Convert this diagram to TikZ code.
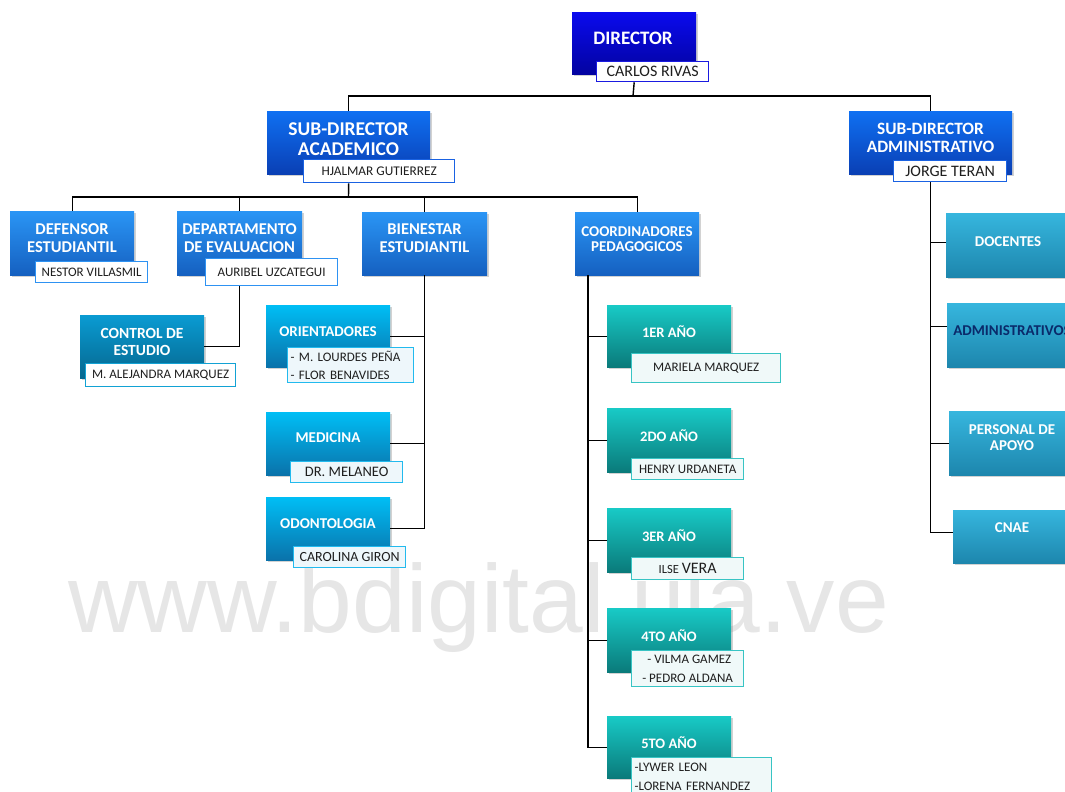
\documentclass[tikz,border=0pt]{standalone}
\usepackage{fontspec}
\setmainfont{Carlito}
\newfontfamily\wmfont{Liberation Sans}
\usetikzlibrary{shadows}
\definecolor{dirT}{HTML}{0A0AEE}
\definecolor{dirB}{HTML}{0303A0}
\definecolor{subT}{HTML}{0F70F2}
\definecolor{subB}{HTML}{0A3FB4}
\definecolor{midT}{HTML}{2A95F5}
\definecolor{midB}{HTML}{1560C0}
\definecolor{ctlT}{HTML}{0A9BD2}
\definecolor{ctlB}{HTML}{05678F}
\definecolor{oriT}{HTML}{00BEF5}
\definecolor{oriB}{HTML}{0A72AA}
\definecolor{yrT}{HTML}{18CAC6}
\definecolor{yrB}{HTML}{0A7A7A}
\definecolor{admT}{HTML}{36B6DE}
\definecolor{admB}{HTML}{1D86AD}
\definecolor{navy}{HTML}{0A2A6A}
\definecolor{wm}{HTML}{E6E6E6}
\definecolor{lnDir}{HTML}{1A1AE0}
\definecolor{lnSub}{HTML}{1A62E2}
\definecolor{lnMid}{HTML}{2E92F2}
\definecolor{lnCtl}{HTML}{12A2D4}
\definecolor{lnOri}{HTML}{22BAEE}
\definecolor{lnYr}{HTML}{38C4C4}
\definecolor{fOri}{HTML}{EEF7FB}
\definecolor{fYr}{HTML}{F0F9F9}
\definecolor{ntext}{HTML}{1E1E1E}
\tikzset{
  box/.style={anchor=north west, inner sep=0pt, shading=axis,
    drop shadow={opacity=0.35, shadow xshift=2pt, shadow yshift=-2pt}},
  dirbox/.style={box, top color=dirT, bottom color=dirB},
  subbox/.style={box, top color=subT, bottom color=subB},
  midbox/.style={box, top color=midT, bottom color=midB},
  ctlbox/.style={box, top color=ctlT, bottom color=ctlB},
  oribox/.style={box, top color=oriT, bottom color=oriB},
  yrbox/.style={box, top color=yrT, bottom color=yrB},
  admbox/.style={box, top color=admT, bottom color=admB},
  ttl/.style={text=white, align=center, inner sep=0pt,
    font=\bfseries\fontsize{16.5}{18}\selectfont},
  namebox/.style={anchor=north west, draw, fill=white, line width=1.3pt,
    inner sep=0pt, text=ntext, font=\fontsize{13}{15.5}\selectfont},
  conn/.style={draw=black, line width=1.4pt}
}
% box: [style]{name}{x1}{y1}{x2}{y2}
\newcommand\bx[6][]{\node[#1, minimum width={(#5-#3)*1pt}, minimum height={(#6-#4)*1pt}] (#2) at (#3,#4) {};}
% name box: [style]{name}{x1}{y1}{x2}{y2}{text}
\newcommand\nb[7][]{\node[namebox, #1, minimum width={(#5-#3)*1pt}, minimum height={(#6-#4)*1pt}] (#2) at (#3,#4) {#7};}
\begin{document}
\begin{tikzpicture}[x=1pt,y=-1pt]
\clip (0,0) rectangle (1065,792);
\fill[white] (0,0) rectangle (1065,792);
% watermark
\node[anchor=base west, inner sep=0pt, text=wm, font=\wmfont\fontsize{96.5}{100}\selectfont] (wmk) at (68,632) {www.bdigital.ula.ve};

% ---------- helper coordinates ----------
\coordinate (b1) at (633,96);
\coordinate (b2) at (348.5,197);
\coordinate (ct) at (588,275);

% ---------- boxes ----------
\bx[dirbox]{dir}{572}{12}{696}{74}
\node[ttl, font=\bfseries\fontsize{19}{21}\selectfont] (dirt) at (633,38) {DIRECTOR};
\nb[draw=lnDir, font=\fontsize{16}{18}\selectfont]{dirn}{596}{61}{708}{81}{CARLOS RIVAS}

\bx[subbox]{sda}{267}{111}{430}{174}
\node[ttl, font=\bfseries\fontsize{19.5}{20}\selectfont] (sdat) at (348.5,139) {SUB-DIRECTOR\\ACADEMICO};
\nb[draw=lnSub, font=\fontsize{13.3}{15}\selectfont]{hj}{303}{159}{454}{182}{HJALMAR GUTIERREZ}

\bx[subbox]{sdm}{849}{111}{1012}{174}
\node[ttl, font=\bfseries\fontsize{17.3}{18}\selectfont] (sdmt) at (930.5,138) {SUB-DIRECTOR\\ADMINISTRATIVO};
\nb[draw=lnSub, font=\fontsize{16}{18}\selectfont]{jt}{893}{160}{1006}{181}{JORGE TERAN}

\bx[midbox]{def}{10}{211}{134}{275}
\node[ttl] (deft) at (72,238) {DEFENSOR\\ESTUDIANTIL};
\nb[draw=lnMid]{nv}{35}{261}{147}{282}{NESTOR VILLASMIL}

\bx[midbox]{dep}{177}{211}{302}{275}
\node[ttl] (dept) at (239.5,238) {DEPARTAMENTO\\DE EVALUACION};
\nb[draw=lnMid]{au}{205}{258}{337}{285}{AURIBEL UZCATEGUI}

\bx[ctlbox]{ctl}{80}{315}{204}{378}
\node[ttl, font=\bfseries\fontsize{15.5}{16.5}\selectfont] (ctlt) at (142,342) {CONTROL DE\\ESTUDIO};
\nb[draw=lnCtl]{ale}{85}{363}{235}{386}{M. ALEJANDRA MARQUEZ}

\bx[midbox]{bien}{362}{212}{487}{275}
\node[ttl] (bient) at (424.5,238) {BIENESTAR\\ESTUDIANTIL};

\bx[midbox]{coord}{575}{212}{699}{275}
\node[ttl, font=\bfseries\fontsize{15}{15.5}\selectfont] (coordt) at (637,239) {COORDINADORES\\PEDAGOGICOS};

\bx[oribox]{ori}{266}{305}{390}{367}
\node[ttl, font=\bfseries\fontsize{15}{17}\selectfont] (orit) at (328,332) {ORIENTADORES};
\nb[draw=lnOri, fill=fOri, align=left, text width=120pt, inner xsep=3pt, font=\fontsize{13}{18.5}\selectfont]{orin}{287}{347}{413}{382}{- M. LOURDES PEÑA\\- FLOR BENAVIDES}

\bx[oribox]{med}{266}{412}{390}{475}
\node[ttl, font=\bfseries\fontsize{15}{17}\selectfont] (medt) at (328,438) {MEDICINA};
\nb[draw=lnOri, fill=fOri, font=\fontsize{14.5}{16}\selectfont]{mel}{290}{461}{402}{482}{DR. MELANEO}

\bx[oribox]{odo}{266}{497}{390}{560}
\node[ttl, font=\bfseries\fontsize{15}{17}\selectfont] (odot) at (328,524) {ODONTOLOGIA};
\nb[draw=lnOri, fill=fOri, font=\fontsize{14}{16}\selectfont]{car}{293}{546}{405}{567}{CAROLINA GIRON}

\bx[yrbox]{y1}{607}{305}{731}{367}
\node[ttl, font=\bfseries\fontsize{14.5}{16}\selectfont] (y1t) at (669,332) {1ER AÑO};
\nb[draw=lnYr, fill=fYr]{y1n}{631}{353}{780}{382}{MARIELA MARQUEZ}

\bx[yrbox]{y2}{607}{408}{731}{472}
\node[ttl, font=\bfseries\fontsize{14.5}{16}\selectfont] (y2t) at (669,436) {2DO AÑO};
\nb[draw=lnYr, fill=fYr]{y2n}{631}{458}{743}{479}{HENRY URDANETA}

\bx[yrbox]{y3}{607}{508}{731}{572}
\node[ttl, font=\bfseries\fontsize{14.5}{16}\selectfont] (y3t) at (669,536) {3ER AÑO};
\nb[draw=lnYr, fill=fYr]{y3n}{631}{557}{743}{579}{{\fontsize{12.5}{14}\selectfont ILSE} {\fontsize{16}{18}\selectfont VERA}}

\bx[yrbox]{y4}{607}{608}{731}{672}
\node[ttl, font=\bfseries\fontsize{14.5}{16}\selectfont] (y4t) at (669,636) {4TO AÑO};
\nb[draw=lnYr, fill=fYr, align=left, font=\fontsize{13}{19}\selectfont]{y4n}{631}{650}{743}{686}{\ \,- VILMA GAMEZ\\- PEDRO ALDANA}

\bx[yrbox]{y5}{607}{716}{731}{778}
\node[ttl, font=\bfseries\fontsize{14.5}{16}\selectfont] (y5t) at (669,743) {5TO AÑO};
\nb[draw=lnYr, fill=fYr, align=left, text width=134pt, inner xsep=2pt, font=\fontsize{13}{19}\selectfont]{y5n}{631}{757}{771}{795}{-LYWER LEON\\-LORENA FERNANDEZ}

\bx[admbox]{doc}{946}{213}{1070}{277}
\node[ttl, font=\bfseries\fontsize{15}{17}\selectfont] (doct) at (1008,242) {DOCENTES};

\bx[admbox]{adm}{947}{303}{1071}{367}
\node[ttl, text=navy, font=\bfseries\fontsize{15}{17}\selectfont] (admt) at (1012,331) {ADMINISTRATIVOS};

\bx[admbox]{per}{949}{411}{1073}{475}
\node[ttl, font=\bfseries\fontsize{15}{16}\selectfont] (pert) at (1012,438) {PERSONAL DE\\APOYO};

\bx[admbox]{cnae}{953}{510}{1077}{563}
\node[ttl, font=\bfseries\fontsize{15}{17}\selectfont] (cnaet) at (1012,528) {CNAE};

% ---------- connectors ----------
\draw[conn] (dir.south |- dirn.south) -- (b1);
\draw[conn] (sda.north) |- (b1) -| (sdm.north);
\draw[conn] (sda.south |- hj.south) -- (b2);
\draw[conn] (def.north) |- (b2) -| (coord.north);
\draw[conn] (dep.north) -- (dep.north |- b2);
\draw[conn] (bien.north) -- (bien.north |- b2);
\draw[conn] (dep.south |- au.south) |- (ctl.east);
\draw[conn] (bien.south) |- (odo.east);
\draw[conn] (ori.east) -- (ori.east -| bien.south);
\draw[conn] (med.east) -- (med.east -| bien.south);
\draw[conn] (ct) |- (y5.west);
\draw[conn] (y1.west) -- (y1.west -| ct);
\draw[conn] (y2.west) -- (y2.west -| ct);
\draw[conn] (y3.west) -- (y3.west -| ct);
\draw[conn] (y4.west) -- (y4.west -| ct);
\draw[conn] (sdm.south |- jt.south) |- ([yshift=4pt]cnae.west);
\draw[conn] ([yshift=3pt]doc.west) -- ([yshift=3pt]doc.west -| sdm.south);
\draw[conn] ([yshift=9pt]adm.west) -- ([yshift=9pt]adm.west -| sdm.south);
\draw[conn] (per.west) -- (per.west -| sdm.south);
\end{tikzpicture}
\end{document}
